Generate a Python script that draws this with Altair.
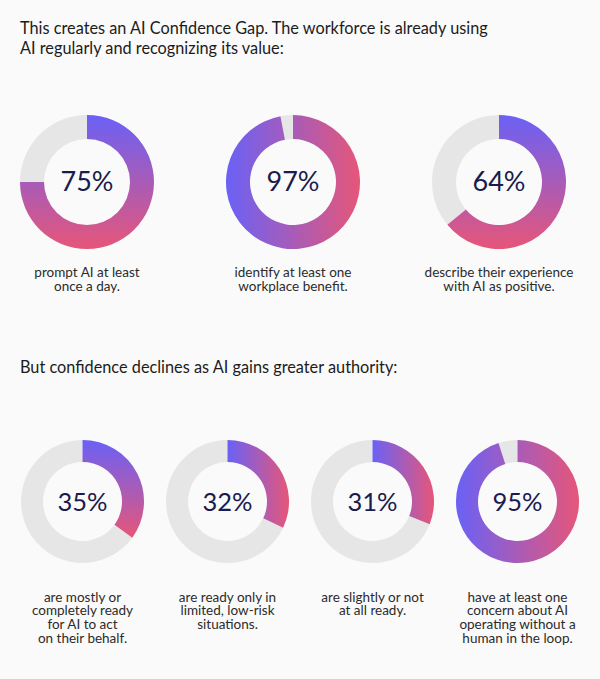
import math

import altair as alt
import pandas as pd

# ---- content -------------------------------------------------------------
HEADING_TOP = (
    "This creates an AI Confidence Gap. The workforce is already using\n"
    "AI regularly and recognizing its value:"
)
HEADING_BOTTOM = "But confidence declines as AI gains greater authority:"

top_values = [75, 97, 64]
top_labels = [
    "prompt AI at least\nonce a day.",
    "identify at least one\nworkplace benefit.",
    "describe their experience\nwith AI as positive.",
]
top_directions = ["vertical", "horizontal", "vertical"]

bottom_values = [35, 32, 31, 95]
bottom_labels = [
    "are mostly or\ncompletely ready\nfor AI to act\non their behalf.",
    "are ready only in\nlimited, low-risk\nsituations.",
    "are slightly or not\nat all ready.",
    "have at least one\nconcern about AI\noperating without a\nhuman in the loop.",
]
bottom_directions = ["vertical", "horizontal", "horizontal", "horizontal"]

# ---- style ---------------------------------------------------------------
BLUE = "#6A61F6"
PINK = "#E65679"
TRACK = "#E6E6E6"
INK = "#1B1B4D"
TEXT = "#2B2B2B"
HEAD = "#1C1C1C"
BG = "#FAFAFA"
FONT = "Lato"


def gradient(direction):
    stops = [
        alt.GradientStop(color=BLUE, offset=0),
        alt.GradientStop(color=PINK, offset=1),
    ]
    if direction == "vertical":
        return alt.Gradient(gradient="linear", stops=stops, x1=0, y1=0, x2=0, y2=1)
    return alt.Gradient(gradient="linear", stops=stops, x1=0, y1=0, x2=1, y2=0)


def donut(value, label, direction, width, height, radius, thickness, cy,
          pct_size, label_y, line_h):
    parts = pd.DataFrame(
        {"part": ["share", "rest"], "start": [0, value], "end": [value, 100]}
    )
    theta = alt.Theta(
        "start:Q", scale=alt.Scale(domain=[0, 100], range=[0, 2 * math.pi])
    )
    base = alt.Chart(parts)
    rest = base.transform_filter(alt.datum.part == "rest").mark_arc(
        outerRadius=radius, innerRadius=radius - thickness, fill=TRACK
    ).encode(theta=theta, theta2="end:Q", y=alt.value(cy))
    share = base.transform_filter(alt.datum.part == "share").mark_arc(
        outerRadius=radius, innerRadius=radius - thickness,
        fill=gradient(direction),
    ).encode(theta=theta, theta2="end:Q", y=alt.value(cy))

    pct = alt.Chart(pd.DataFrame({"pct": [f"{value}%"]})).mark_text(
        font=FONT, fontSize=pct_size, color=INK, align="center",
        baseline="middle", dy=1,
    ).encode(text="pct:N", x=alt.value(width / 2), y=alt.value(cy))

    caption = alt.Chart(pd.DataFrame({"label": [label]})).mark_text(
        font=FONT, fontSize=13.5, color=TEXT, align="center",
        baseline="alphabetic", lineBreak="\n", lineHeight=line_h,
    ).encode(text="label:N", x=alt.value(width / 2), y=alt.value(label_y))

    return alt.layer(rest, share, pct, caption).properties(
        width=width, height=height
    )


def heading(text, height, y):
    return alt.Chart(pd.DataFrame({"t": [text]})).mark_text(
        font=FONT, fontSize=16.3, color=HEAD, align="left",
        baseline="alphabetic", lineBreak="\n", lineHeight=20,
    ).encode(text="t:N", x=alt.value(0), y=alt.value(y)).properties(
        width=560, height=height
    )


top_row = alt.hconcat(
    *[
        donut(v, l, d, 134, 200, 67, 24, 82, 27, 176.5, 14.5)
        for v, l, d in zip(top_values, top_labels, top_directions)
    ],
    spacing=72,
    bounds="flush",
)

bottom_row = alt.hconcat(
    *[
        donut(v, l, d, 125, 239, 61.5, 22, 61.5, 25.5, 161.5, 13.8)
        for v, l, d in zip(bottom_values, bottom_labels, bottom_directions)
    ],
    spacing=20,
    bounds="flush",
)

chart = alt.vconcat(
    heading(HEADING_TOP, 100, 33.5),
    top_row,
    heading(HEADING_BOTTOM, 140, 73),
    bottom_row,
    spacing=0,
).configure(
    background=BG,
    padding={"left": 20, "top": 0, "right": 20, "bottom": 0},
).configure_view(stroke=None)

chart.save("out.html", embed_options={"renderer": "svg", "actions": False})
